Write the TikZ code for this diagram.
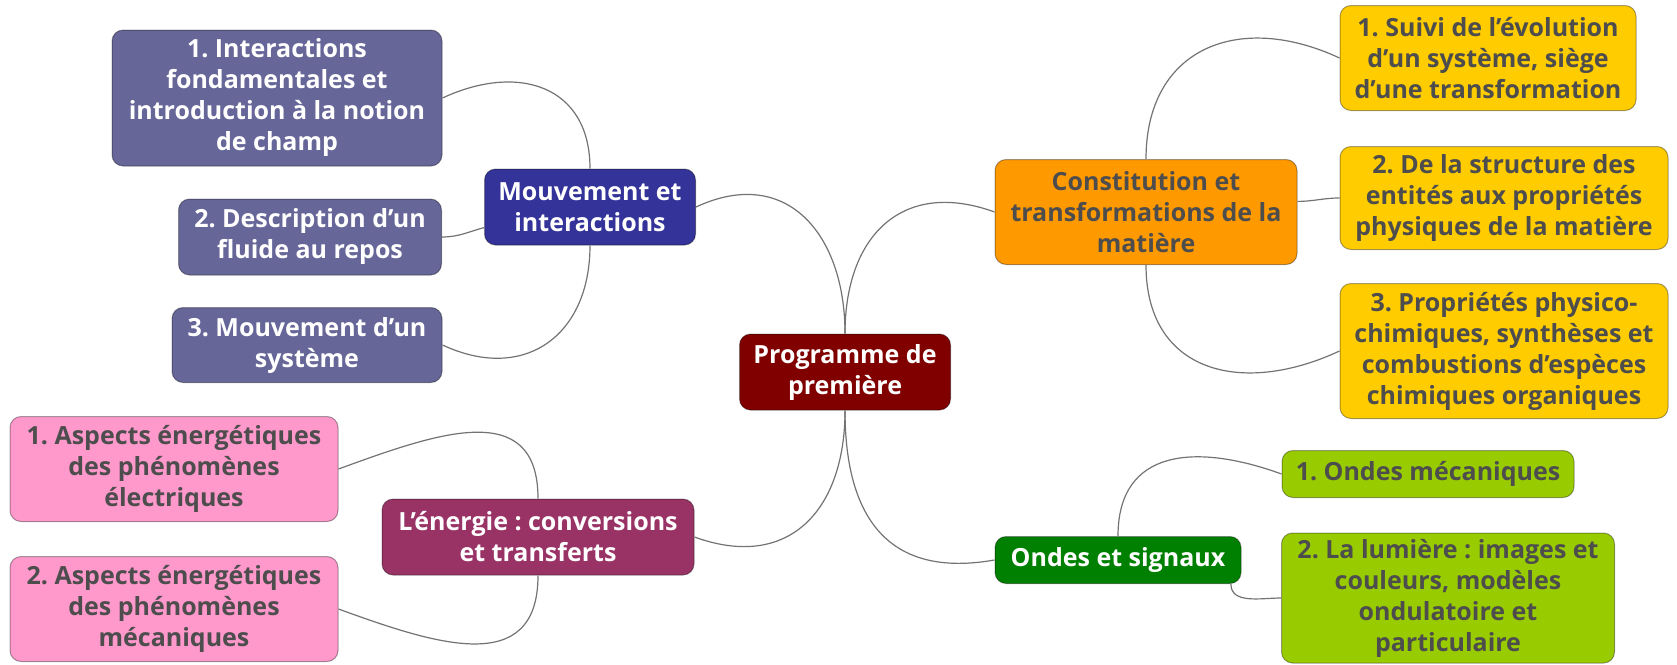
\documentclass[tikz,border=0pt]{standalone}
\usepackage{fontspec}
\setmainfont{Open Sans}
\frenchspacing

\definecolor{racine}{HTML}{800000}
\definecolor{mvtc}{HTML}{333399}
\definecolor{mvtf}{HTML}{666699}
\definecolor{consc}{HTML}{FF9900}
\definecolor{consf}{HTML}{FFCC00}
\definecolor{ondesc}{HTML}{008000}
\definecolor{ondesf}{HTML}{99CC00}
\definecolor{nrjc}{HTML}{993366}
\definecolor{nrjf}{HTML}{FF99CC}
\definecolor{texte}{HTML}{4D4D4D}

\begin{document}
\begin{tikzpicture}[
		x = 1pt, y = -1pt,
		every node/.style = {font = \bfseries\fontsize{25}{31}\selectfont, align = center,
			rounded corners = 11pt, draw = black, draw opacity = 0.35, line width = 1pt,
			inner sep = 3pt},
		clair/.style = {text = white},
		fonce/.style = {text = texte},
		lien/.style = {draw = black!55, line width = 1.2pt, looseness = 1.3}]

		\useasboundingbox (0,0) rectangle (1677,664);

		% centre
		\node[clair, fill = racine, minimum width = 211, minimum height = 76] (prog) at (845,372) {Programme de\\première};

		% branches
		\node[clair, fill = mvtc, minimum width = 211, minimum height = 76] (mvt) at (590,207) {Mouvement et\\interactions};
		\node[fonce, fill = consc, minimum width = 302, minimum height = 105] (cons) at (1146,212) {Constitution et\\transformations de la\\matière};
		\node[clair, fill = ondesc, minimum width = 246, minimum height = 47] (ondes) at (1118,560) {Ondes et signaux};
		\node[clair, fill = nrjc, minimum width = 312, minimum height = 76] (nrj) at (538,537) {L’énergie : conversions\\et transferts};

		% sous-parties
		\node[clair, fill = mvtf, minimum width = 330, minimum height = 136] (m1) at (277,98) {1. Interactions\\fondamentales et\\introduction à la notion\\de champ};
		\node[clair, fill = mvtf, minimum width = 263, minimum height = 76] (m2) at (310,237) {2. Description d’un\\fluide au repos};
		\node[clair, fill = mvtf, minimum width = 270, minimum height = 75] (m3) at (307,345) {3. Mouvement d’un\\système};

		\node[fonce, fill = consf, minimum width = 296, minimum height = 105] (c1) at (1488,58) {1. Suivi de l’évolution\\d’un système, siège\\d’une transformation};
		\node[fonce, fill = consf, minimum width = 328, minimum height = 103] (c2) at (1504,198) {2. De la structure des\\entités aux propriétés\\physiques de la matière};
		\node[fonce, fill = consf, minimum width = 328, minimum height = 135] (c3) at (1504,351) {3. Propriétés physico-\\chimiques, synthèses et\\combustions d’espèces\\chimiques organiques};

		\node[fonce, fill = ondesf, minimum width = 292, minimum height = 47] (o1) at (1428,474) {1. Ondes mécaniques};
		\node[fonce, fill = ondesf, minimum width = 333, minimum height = 130] (o2) at (1448,598) {2. La lumière : images et\\couleurs, modèles\\ondulatoire et\\particulaire};

		\node[fonce, fill = nrjf, minimum width = 328, minimum height = 105] (e1) at (174,469) {1. Aspects énergétiques\\des phénomènes\\électriques};
		\node[fonce, fill = nrjf, minimum width = 328, minimum height = 105] (e2) at (174,609) {2. Aspects énergétiques\\des phénomènes\\mécaniques};

		% liens
		\draw[lien] (prog.north) to[out=90, in=25] (mvt.east);
		\draw[lien] (prog.north) to[out=90, in=160] (cons.west);
		\draw[lien] (prog.south) to[out=-90, in=-20] (nrj.east);
		\draw[lien] (prog.south) to[out=-90, in=190] (ondes.west);

		\draw[lien] (mvt.north) to[out=90, in=25] (m1.east);
		\draw[lien, looseness=1] (mvt.191) to[out=195, in=0] (m2.east);
		\draw[lien] (mvt.south) to[out=-90, in=-25] (m3.east);

		\draw[lien] (cons.north) to[out=90, in=155] (c1.west);
		\draw[lien, looseness=1] (cons.4) to[out=0, in=180] (c2.west);
		\draw[lien] (cons.south) to[out=-90, in=205] (c3.west);

		\draw[lien] (ondes.north) to[out=90, in=160] (o1.west);
		\draw[lien, looseness=1] (ondes.-12) to[out=-90, in=180] (o2.west);

		\draw[lien] (nrj.north) to[out=90, in=20] (e1.east);
		\draw[lien] (nrj.south) to[out=-90, in=-20] (e2.east);

	\end{tikzpicture}
\end{document}
